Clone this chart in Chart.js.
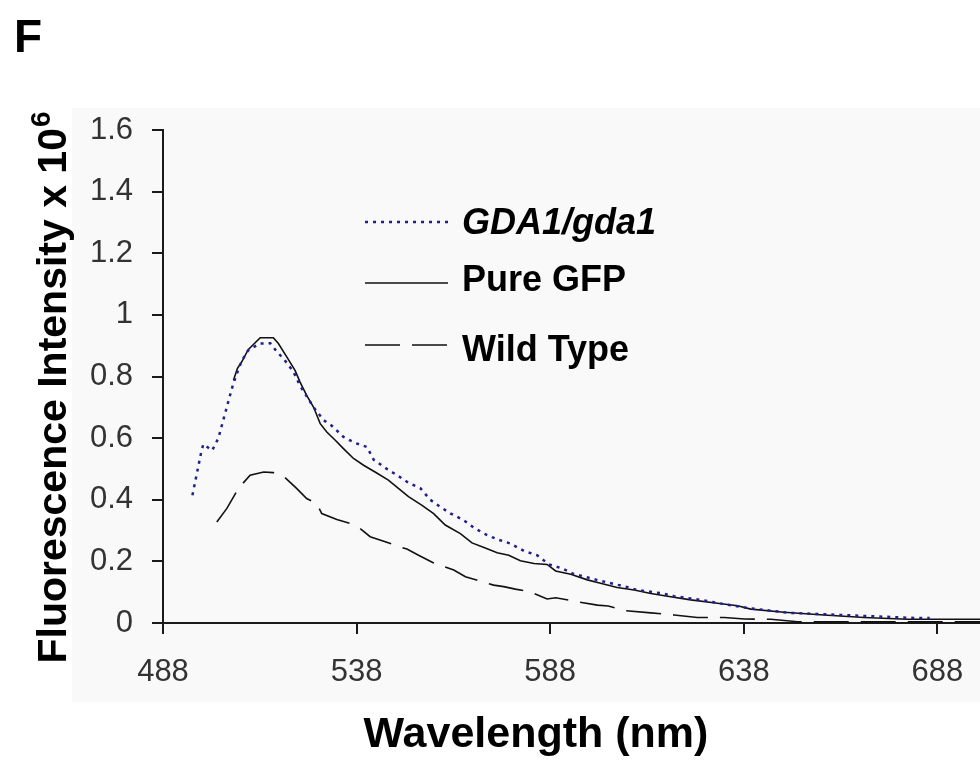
<!DOCTYPE html>
<html>
<head>
<meta charset="utf-8">
<script src="https://cdn.jsdelivr.net/npm/chart.js@4.4.1/dist/chart.umd.min.js"></script>
<style>
  html, body { margin: 0; padding: 0; background: #fff; }
  #chart { display: block; }
</style>
</head>
<body>
<canvas id="chart" width="980" height="761"></canvas>
<script>
// values (wavelength in nm, intensity x 10^6)
const gdaWavelength = [495.6, 497.8, 498.4, 500.7, 502.3, 504.9, 506.0, 506.8, 508.3, 510.0, 513.0, 515.7, 517.0, 519.6, 521.7, 523.4, 526.9, 529.5, 531.6, 534.6, 537.7, 540.7, 542.4, 545.8, 548.4, 551.4, 554.5, 557.0, 559.6, 562.2, 565.6, 568.2, 571.7, 574.7, 577.7, 581.2, 584.6, 587.7, 591.1, 594.1, 600.0, 604.0, 607.5, 610.5, 617.0, 620.0, 623.9, 626.9, 629.9, 636.8, 639.4, 649.7, 669.1, 682.5, 686.0];
const gdaIntensity = [0.415, 0.55, 0.58, 0.56, 0.60, 0.72, 0.77, 0.80, 0.85, 0.885, 0.907, 0.908, 0.887, 0.85, 0.815, 0.77, 0.70, 0.658, 0.64, 0.604, 0.584, 0.571, 0.53, 0.50, 0.48, 0.455, 0.437, 0.40, 0.377, 0.356, 0.334, 0.31, 0.285, 0.27, 0.258, 0.234, 0.22, 0.19, 0.177, 0.159, 0.14, 0.128, 0.118, 0.107, 0.096, 0.087, 0.08, 0.075, 0.068, 0.053, 0.048, 0.033, 0.023, 0.016, 0.016];

const gfpWavelength = [506.2, 507.2, 508.3, 510.0, 513.1, 516.5, 517.8, 520.0, 522.1, 523.4, 525.1, 526.9, 528.6, 530.3, 532.5, 534.6, 537.2, 539.8, 543.2, 546.2, 548.8, 551.4, 554.9, 557.9, 560.9, 564.8, 567.8, 570.9, 574.3, 577.3, 580.3, 583.8, 587.2, 589.4, 593.3, 597.6, 601.0, 605.3, 609.7, 614.0, 618.3, 624.3, 631.2, 636.4, 639.8, 648.4, 658.7, 669.1, 680.3, 687.2, 699.0];
const gfpIntensity = [0.788, 0.826, 0.847, 0.887, 0.926, 0.926, 0.907, 0.863, 0.82, 0.782, 0.739, 0.70, 0.647, 0.62, 0.593, 0.566, 0.534, 0.512, 0.487, 0.464, 0.437, 0.41, 0.382, 0.355, 0.318, 0.29, 0.26, 0.245, 0.228, 0.22, 0.202, 0.193, 0.19, 0.169, 0.158, 0.14, 0.129, 0.115, 0.107, 0.096, 0.087, 0.075, 0.064, 0.056, 0.045, 0.035, 0.026, 0.018, 0.012, 0.012, 0.012];

const wildWavelength = [501.9, 504.5, 507.5, 510.5, 514.0, 516.5, 519.5, 522.5, 525.1, 527.7, 529.0, 532.9, 536.4, 538.9, 541.5, 545.4, 548.4, 551.0, 554.0, 557.9, 560.5, 563.1, 566.1, 570.4, 573.4, 576.0, 579.0, 582.9, 587.2, 589.4, 595.0, 600.2, 603.0, 607.5, 614.0, 620.0, 626.0, 633.0, 638.2, 645.0, 651.9, 661.3, 674.0, 687.0, 699.0];
const wildIntensity = [0.328, 0.372, 0.437, 0.48, 0.49, 0.488, 0.472, 0.437, 0.404, 0.388, 0.355, 0.336, 0.323, 0.307, 0.28, 0.264, 0.25, 0.24, 0.22, 0.195, 0.183, 0.172, 0.15, 0.134, 0.123, 0.118, 0.11, 0.101, 0.078, 0.082, 0.069, 0.058, 0.055, 0.04, 0.033, 0.026, 0.018, 0.018, 0.013, 0.012, 0.004, 0.004, 0.004, 0.004, 0.004];

const seriesNames = ["GDA1/gda1", "Pure GFP", "Wild Type"];
const xTickValues = [488, 538, 588, 638, 688];
const yTickValues = [0, 0.2, 0.4, 0.6, 0.8, 1, 1.2, 1.4, 1.6];

const axisColor = "#1a1a1a";
const blue = "#1f1f8f";

function toPoints(xs, ys) {
    return xs.map((x, i) => ({ x: x, y: ys[i] }));
}

// light panel behind the plot, like the scanned figure
const panelPlugin = {
    id: "panel",
    beforeDraw(chart) {
        const ctx = chart.ctx;
        ctx.save();
        ctx.fillStyle = "#ffffff";
        ctx.fillRect(0, 0, chart.width, chart.height);
        ctx.fillStyle = "#f9f9f9";
        ctx.fillRect(72, 108, chart.width - 72, 594);
        ctx.restore();
    }
};

// panel letter, axis titles and the legend
const textPlugin = {
    id: "texts",
    afterDraw(chart) {
        const ctx = chart.ctx;
        ctx.save();
        ctx.fillStyle = "#000";
        ctx.textBaseline = "alphabetic";

        ctx.font = "bold 46px 'Liberation Sans', Arial, sans-serif";
        ctx.textAlign = "left";
        ctx.fillText("F", 14, 52);

        // x title
        ctx.font = "bold 43px 'Liberation Sans', Arial, sans-serif";
        ctx.textAlign = "center";
        ctx.fillText("Wavelength (nm)", 536, 747);

        // y title with superscript
        const main = "Fluorescence Intensity x 10";
        ctx.font = "bold 41px 'Liberation Sans', Arial, sans-serif";
        const w1 = ctx.measureText(main).width;
        ctx.font = "bold 28px 'Liberation Sans', Arial, sans-serif";
        const w2 = ctx.measureText("6").width;
        ctx.translate(66, 388);
        ctx.rotate(-Math.PI / 2);
        ctx.textAlign = "left";
        ctx.font = "bold 41px 'Liberation Sans', Arial, sans-serif";
        const start = -(w1 + w2) / 2;
        ctx.fillText(main, start, 0);
        ctx.font = "bold 28px 'Liberation Sans', Arial, sans-serif";
        ctx.fillText("6", start + w1 + 1, -16);
        ctx.setTransform(1, 0, 0, 1, 0, 0);

        // legend
        const rows = [
            { y: 222, ty: 224, color: blue, dash: [3, 5], width: 2.5, italic: true },
            { y: 283, ty: 281, color: "#111", dash: [], width: 1.6, italic: false },
            { y: 345, ty: 351, color: "#111", dash: [35, 12], width: 1.6, italic: false }
        ];
        rows.forEach((r, i) => {
            ctx.beginPath();
            ctx.setLineDash(r.dash);
            ctx.strokeStyle = r.color;
            ctx.lineWidth = r.width;
            ctx.moveTo(365, r.y);
            ctx.lineTo(448, r.y);
            ctx.stroke();
            ctx.setLineDash([]);
            ctx.font = (r.italic ? "italic " : "") + "bold 36px 'Liberation Sans', Arial, sans-serif";
            ctx.textAlign = "left";
            ctx.textBaseline = "middle";
            ctx.fillStyle = "#000";
            ctx.fillText(seriesNames[i], 462, r.ty);
        });
        ctx.restore();
    }
};

document.addEventListener("DOMContentLoaded", function() {
    const ctx = document.getElementById("chart");

    new Chart(ctx, {
        type: "line",
        plugins: [panelPlugin, textPlugin],
        data: {
            datasets: [
                {
                    label: seriesNames[0],
                    data: toPoints(gdaWavelength, gdaIntensity),
                    borderColor: blue,
                    borderWidth: 2.5,
                    borderDash: [3, 5],
                    pointRadius: 0,
                    tension: 0
                },
                {
                    label: seriesNames[1],
                    data: toPoints(gfpWavelength, gfpIntensity),
                    borderColor: "#111",
                    borderWidth: 1.6,
                    pointRadius: 0,
                    tension: 0
                },
                {
                    label: seriesNames[2],
                    data: toPoints(wildWavelength, wildIntensity),
                    borderColor: "#111",
                    borderWidth: 1.6,
                    borderDash: [35, 12],
                    pointRadius: 0,
                    tension: 0
                }
            ]
        },
        options: {
            responsive: false,
            devicePixelRatio: 1,
            animation: false,
            layout: {
                padding: { top: 130, right: 0, left: 0, bottom: 0 }
            },
            plugins: {
                legend: { display: false },
                tooltip: { enabled: false }
            },
            scales: {
                x: {
                    type: "linear",
                    min: 488,
                    max: 699,
                    afterBuildTicks: function(axis) {
                        axis.ticks = xTickValues.map(v => ({ value: v }));
                    },
                    afterFit: function(axis) {
                        axis.height = 138;
                        axis.paddingLeft = 0;
                        axis.paddingRight = 0;
                    },
                    border: { display: true, color: axisColor, width: 2 },
                    grid: {
                        drawOnChartArea: false,
                        drawTicks: true,
                        tickLength: 11,
                        color: axisColor,
                        lineWidth: 2
                    },
                    ticks: {
                        padding: 20,
                        color: "#333",
                        maxRotation: 0,
                        font: { family: "'Liberation Sans', Arial, sans-serif", size: 31 },
                        callback: function(value) { return String(value); }
                    }
                },
                y: {
                    min: 0,
                    max: 1.6,
                    afterBuildTicks: function(axis) {
                        axis.ticks = yTickValues.map(v => ({ value: v }));
                    },
                    afterFit: function(axis) {
                        axis.width = 163;
                    },
                    border: { display: true, color: axisColor, width: 2 },
                    grid: {
                        drawOnChartArea: false,
                        drawTicks: true,
                        tickLength: 11,
                        color: axisColor,
                        lineWidth: 2
                    },
                    ticks: {
                        padding: 19,
                        color: "#333",
                        font: { family: "'Liberation Sans', Arial, sans-serif", size: 31 },
                        callback: function(value) { return String(Number(value.toFixed(1))); }
                    }
                }
            }
        }
    });
});
</script>
</body>
</html>
